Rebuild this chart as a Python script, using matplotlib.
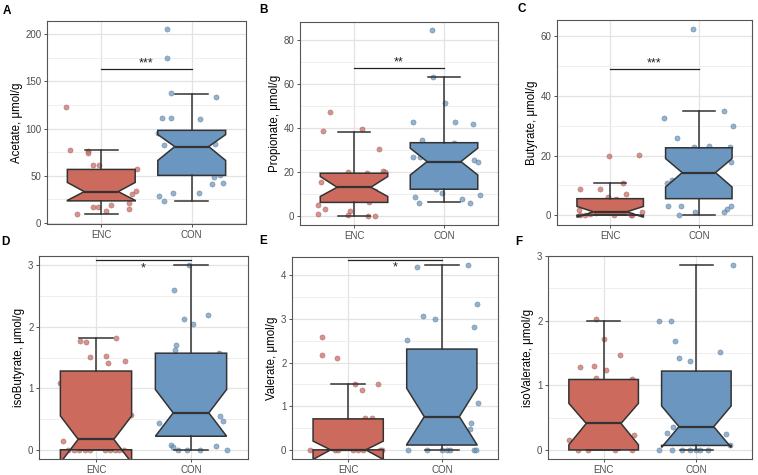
import matplotlib.pyplot as plt
from matplotlib.ticker import AutoMinorLocator

plt.rcParams["font.family"] = ["Liberation Sans", "DejaVu Sans"]

groups = ["ENC", "CON"]
enc_color = "#CC6A5E"
con_color = "#6A96BF"

# box stats per panel: (whislo, q1, med, q3, whishi, cilo, cihi) for ENC, CON
acetate_box = [(9.5, 23.5, 33.3, 56.8, 77.9, 24.0, 43.0),
               (23.2, 50.5, 81.0, 98.2, 137.0, 66.3, 93.7)]
propionate_box = [(0, 6.1, 13.0, 19.4, 38.3, 8.8, 17.9),
                  (6.1, 12.1, 24.7, 33.3, 63.3, 18.6, 30.8)]
butyrate_box = [(0, 0.1, 1.2, 5.6, 10.8, -0.6, 3.0),
                (0.3, 5.6, 14.3, 22.6, 34.9, 9.5, 19.0)]
isobutyrate_box = [(0, 0, 0.17, 1.28, 1.82, -0.21, 0.55),
                   (0, 0.22, 0.6, 1.57, 3.0, 0.22, 0.98)]
valerate_box = [(0, 0, 0, 0.71, 1.52, -0.22, 0.2),
                (0, 0.11, 0.76, 2.31, 4.23, 0.12, 1.41)]
isovalerate_box = [(0, 0, 0.41, 1.09, 2.0, 0.08, 0.72),
                   (0, 0.07, 0.36, 1.22, 2.86, 0.04, 0.68)]

# jittered points: values and horizontal jitter offsets
acetate_enc = [122.5, 77.9, 76.8, 74.4, 61, 61, 57.5, 34, 31.2, 21, 19.3, 17.5, 16.5, 12.3, 15.4, 9.5]
acetate_enc_jit = [-0.39, -0.35, -0.15, -0.15, -0.09, -0.03, 0.39, 0.38, 0.34, 0.31, 0.11, -0.09, -0.04, 0.05, 0.31, -0.27]
acetate_con = [205, 174.7, 137.5, 111, 111.6, 110.5, 134, 95.4, 82.5, 84, 28.8, 23, 32, 31.6, 41.8, 42, 49, 51]
acetate_con_jit = [-0.27, -0.27, -0.23, -0.33, -0.23, 0.09, 0.27, -0.37, -0.31, 0.26, -0.36, -0.31, -0.21, 0.08, 0.22, 0.35, 0.25, 0.31]

propionate_enc = [47.1, 38.5, 39.7, 30.3, 19.8, 19.5, 20.6, 19.8, 15.2, 3, 5, 0.8, 2.4, 0.5, 0, 0, 11.5, 6.2]
propionate_enc_jit = [-0.27, -0.35, 0.09, 0.28, -0.07, 0.14, 0.32, 0.34, -0.37, -0.32, -0.40, -0.40, -0.05, -0.07, 0.15, 0.23, 0.23, 0.17]
propionate_con = [84.5, 63.3, 51.2, 42.9, 42.6, 41.7, 34.5, 27, 27, 25.5, 24.7, 8.5, 5.8, 7.7, 5.8, 9.5, 12.1, 10.6, 33]
propionate_con_jit = [-0.13, -0.12, 0.01, -0.34, 0.12, 0.32, -0.25, -0.35, -0.27, 0.33, 0.38, -0.32, -0.28, 0.2, 0.29, 0.4, -0.09, -0.02, 0.11]

butyrate_enc = [19.9, 20.1, 8.9, 8.8, 10.9, 7.3, 6.1, 5.6, 1.9, 0, 0, 0.6, 0, 0, 0, 1.1, 0.9]
butyrate_enc_jit = [-0.01, 0.33, -0.34, -0.12, 0.14, 0.18, -0.03, 0.06, -0.35, -0.34, -0.28, -0.23, 0.04, 0.23, 0.25, 0.36, -0.16]
butyrate_con = [62.2, 32.7, 26, 34.9, 30, 17.7, 23.1, 22.9, 22.7, 10.8, 12, 3.1, 3.1, 0.3, 1.1, 2.2, 1, 3.1]
butyrate_con_jit = [-0.07, -0.39, -0.25, 0.28, 0.39, 0.36, 0.11, -0.05, 0.35, -0.36, -0.30, -0.35, -0.2, -0.22, -0.04, 0.32, 0.28, 0.36]

isobutyrate_enc = [1.09, 1.77, 1.75, 1.51, 1.82, 1.52, 1.41, 1.45, 0.56, 0.15, 0, 0, 0, 0, 0, 0, 0, 0, 0, 0]
isobutyrate_enc_jit = [-0.38, -0.17, -0.11, -0.06, 0.21, 0.11, 0.13, 0.31, 0.37, -0.35, -0.29, -0.23, -0.18, -0.12, -0.06, 0.09, 0.15, 0.2, 0.24, 0.29]
isobutyrate_con = [3.0, 2.59, 2.12, 2.05, 2.19, 1.7, 1.62, 0.43, 0.55, 0.47, 0.08, 0.05, 0, 0, 0, 0.06, 0, 1.57]
isobutyrate_con_jit = [-0.02, -0.18, -0.07, 0.02, 0.18, -0.16, -0.17, -0.34, 0.31, 0.34, -0.21, -0.19, -0.04, 0.09, -0.14, 0.26, 0.38, 0.29]

valerate_enc = [2.58, 2.17, 2.11, 1.52, 1.37, 1.51, 0.72, 0.74, 0, 0, 0, 0, 0, 0, 0, 0]
valerate_enc_jit = [-0.28, -0.28, -0.12, 0.07, 0.15, 0.32, 0.18, 0.25, -0.41, -0.14, -0.11, 0.05, 0.11, 0.16, 0.34, 0.36]
valerate_con = [4.19, 4.23, 3.07, 3.01, 3.35, 2.82, 2.51, 1.07, 0.61, 0.47, 0, 0, 0, 0, 0, 0, 0]
valerate_con_jit = [-0.26, 0.28, -0.2, -0.07, 0.38, 0.34, -0.37, 0.39, 0.31, 0.3, -0.36, -0.16, 0, 0.05, 0.09, 0.34, 0.37]

isovalerate_enc = [2.02, 1.71, 1.47, 1.28, 1.3, 1.24, 1.11, 1.1, 0.15, 0.23, 0, 0, 0, 0]
isovalerate_enc_jit = [-0.08, 0, 0.18, -0.25, -0.1, 0.03, -0.08, 0.31, -0.37, 0.33, -0.28, -0.17, 0.12, 0.31]
isovalerate_con = [2.86, 1.99, 1.99, 1.69, 1.43, 1.37, 1.51, 0.35, 0.26, 0.36, 0.25, 0.08, 0, 0, 0, 0, 0, 0, 0]
isovalerate_con_jit = [0.4, -0.4, -0.27, -0.23, -0.19, -0.07, 0.26, -0.25, -0.32, 0.13, 0.32, 0.36, -0.4, -0.26, -0.16, -0.07, 0, 0.04, 0.13]

panels = [
    ("A", "Acetate, μmol/g", acetate_box, acetate_enc, acetate_enc_jit, acetate_con, acetate_con_jit,
     (-1, 214), [0, 50, 100, 150, 200], (163, "***", 169)),
    ("B", "Propionate, μmol/g", propionate_box, propionate_enc, propionate_enc_jit, propionate_con, propionate_con_jit,
     (-4.2, 88.3), [0, 20, 40, 60, 80], (67.4, "**", 70.0)),
    ("C", "Butyrate, μmol/g", butyrate_box, butyrate_enc, butyrate_enc_jit, butyrate_con, butyrate_con_jit,
     (-3.2, 65.3), [0, 20, 40, 60], (48.8, "***", 50.8)),
    ("D", "isoButyrate, μmol/g", isobutyrate_box, isobutyrate_enc, isobutyrate_enc_jit, isobutyrate_con, isobutyrate_con_jit,
     (-0.15, 3.15), [0, 1, 2, 3], (3.09, "*", 2.95)),
    ("E", "Valerate, μmol/g", valerate_box, valerate_enc, valerate_enc_jit, valerate_con, valerate_con_jit,
     (-0.21, 4.42), [0, 1, 2, 3, 4], (4.35, "*", 4.17)),
    ("F", "isoValerate, μmol/g", isovalerate_box, isovalerate_enc, isovalerate_enc_jit, isovalerate_con, isovalerate_con_jit,
     (-0.14, 3.0), [0, 1, 2, 3], None),
]

# axes rectangles in pixels: left, right, top, bottom
W, H = 758, 475
rects = [(47, 246, 21, 224), (300, 498, 22, 225), (557, 752, 20, 225),
         (39, 248, 256, 459), (292, 498, 257, 459), (548, 752, 256, 459)]
letter_pos = [(7, 11), (263, 10), (522, 9), (5, 242), (263, 241), (519, 242)]

fig = plt.figure(figsize=(W / 100, H / 100), dpi=100)

for (letter, ylabel, box, enc, enc_jit, con, con_jit, ylim, yticks, sig), (l, r, t, b), (lx, ly) in zip(
        panels, rects, letter_pos):
    ax = fig.add_axes([l / W, 1 - b / H, (r - l) / W, (b - t) / H])
    ax.set_axisbelow(True)

    ax.scatter([1 + j for j in enc_jit], enc, s=14, color=enc_color, alpha=0.72,
               edgecolors="#7a4a45", linewidths=0.3, zorder=2)
    ax.scatter([2 + j for j in con_jit], con, s=14, color=con_color, alpha=0.72,
               edgecolors="#3f5a73", linewidths=0.3, zorder=2)

    stats = []
    for name, s in zip(groups, box):
        wl, q1, med, q3, wh, cl, ch = s
        stats.append(dict(label=name, whislo=wl, q1=q1, med=med, q3=q3, whishi=wh,
                          cilo=cl, cihi=ch, fliers=[]))
    bp = ax.bxp(stats, positions=[1, 2], widths=0.75, capwidths=0.36, shownotches=True,
                patch_artist=True, showfliers=False, zorder=3,
                boxprops=dict(edgecolor="#333333", linewidth=1.1),
                whiskerprops=dict(color="#333333", linewidth=1.1),
                capprops=dict(color="#333333", linewidth=1.1),
                medianprops=dict(color="#333333", linewidth=1.6))
    for patch, c in zip(bp["boxes"], [enc_color, con_color]):
        patch.set_facecolor(c)

    if sig is not None:
        y_line, stars, y_txt = sig
        ax.plot([1, 2], [y_line, y_line], color="#222222", linewidth=0.9, zorder=4)
        ax.text(1.5, y_txt, stars, ha="center", va="center", fontsize=9, color="#222222", zorder=4)

    ax.set_xlim(0.4, 2.6)
    ax.set_ylim(*ylim)
    ax.set_yticks(yticks)
    ax.yaxis.set_minor_locator(AutoMinorLocator(2))
    ax.set_xticks([1, 2])
    ax.set_xticklabels(groups)
    ax.grid(which="major", color="#E3E3E3", linewidth=0.9)
    ax.grid(which="minor", axis="y", color="#EDEDED", linewidth=0.6)
    ax.tick_params(which="major", length=2.5, width=0.6, color="#333333",
                   labelcolor="#4D4D4D", labelsize=7, pad=1.5)
    ax.tick_params(which="minor", length=0)
    for sp in ax.spines.values():
        sp.set_color("#555555")
        sp.set_linewidth(0.8)
    ax.set_ylabel(ylabel, fontsize=8.3, color="black", labelpad=2)

    fig.text(lx / W, 1 - ly / H, letter, fontsize=8.5, fontweight="bold", ha="center", va="center")

fig.savefig("out.png", dpi=100)
